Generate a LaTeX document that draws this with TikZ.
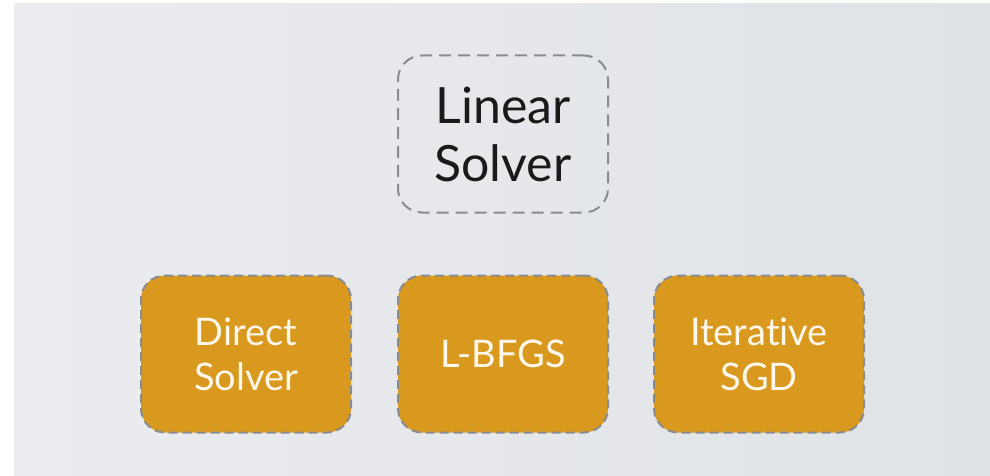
\documentclass[tikz,border=0pt]{standalone}
\usepackage{fontspec}
\setmainfont{Lato}[Ligatures=NoCommon]
\definecolor{bgleft}{HTML}{ECECF0}
\definecolor{bgright}{HTML}{DFE3E6}
\definecolor{solverfill}{HTML}{D9981E}
\definecolor{dashgray}{HTML}{888B90}
\definecolor{darktext}{HTML}{1A1A1A}
\definecolor{lighttext}{HTML}{FFF8EA}
\begin{document}
\begin{tikzpicture}[x=1pt,y=-1pt,
  box/.style={rounded corners=24pt, minimum width=210pt, minimum height=157pt,
    draw=dashgray, line width=2pt, align=center, inner sep=0pt},
  parentbox/.style={box, dash pattern=on 12pt off 7pt,
    font=\fontsize{50}{58}\selectfont, text=darktext},
  childbox/.style={box, dash pattern=on 9pt off 5pt, fill=solverfill,
    font=\fontsize{38}{45}\selectfont, text=lighttext}
]
  \useasboundingbox (0,0) rectangle (990,476);
  % slide background with a white margin on the left and top
  \fill[white] (0,0) rectangle (990,476);
  \shade[left color=bgleft, right color=bgright] (14,4) rectangle (990,476);

  \node[parentbox] (linear) at (503,134) {Linear\\Solver};

  \node[childbox] (direct)    at (246,354) {Direct\\Solver};
  \node[childbox] (lbfgs)     at (503,354) {L-BFGS};
  \node[childbox] (iterative) at (759,354) {Iterative\\SGD};
\end{tikzpicture}
\end{document}
